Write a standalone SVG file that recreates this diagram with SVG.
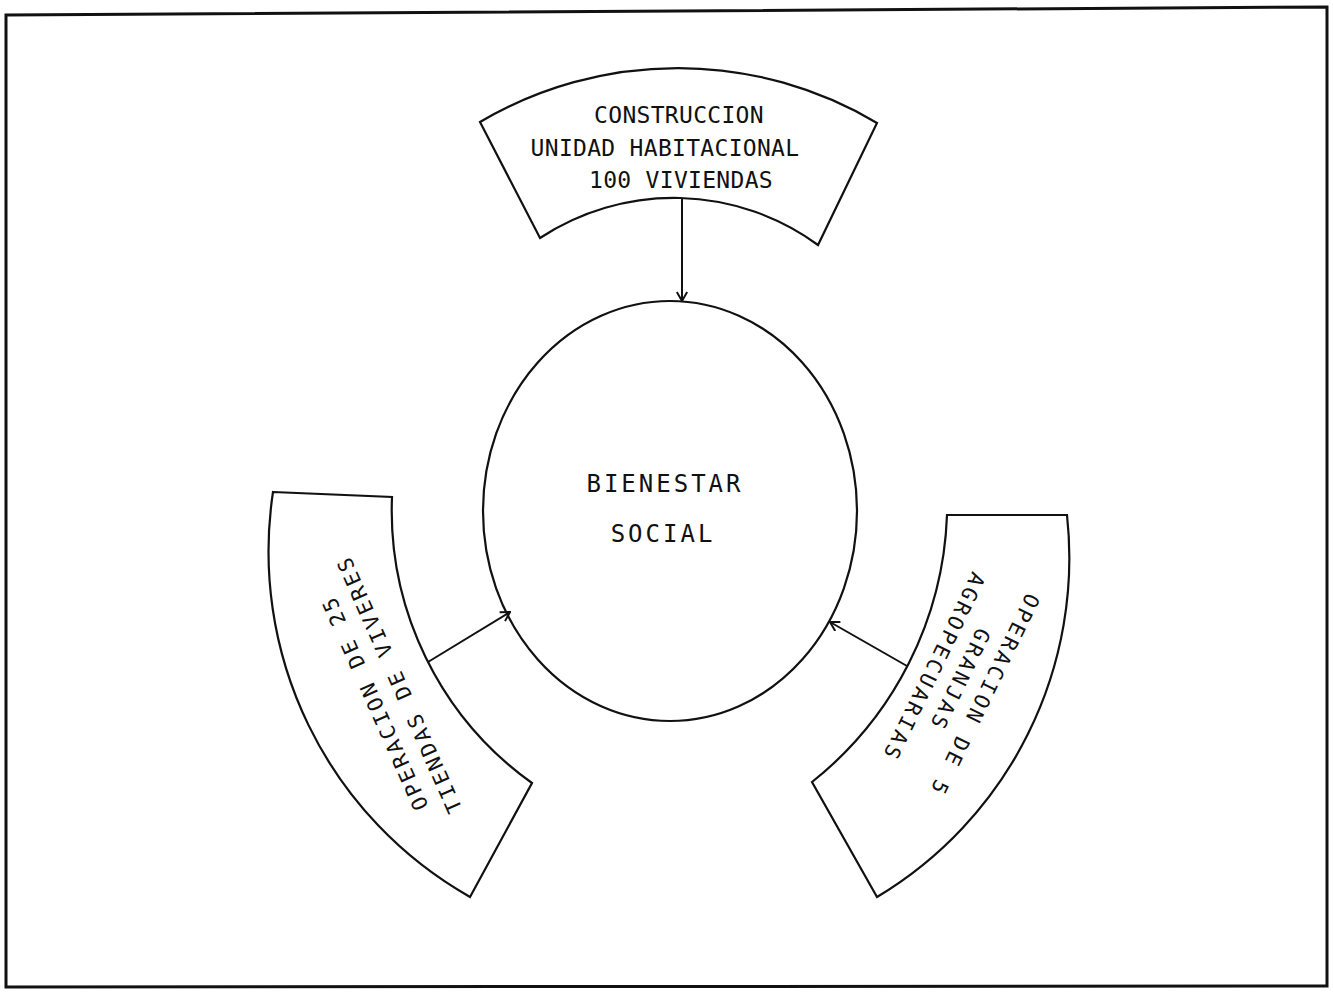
<svg xmlns="http://www.w3.org/2000/svg" width="1333" height="993" viewBox="0 0 1333 993">
<style>
.shape{fill:none;stroke:#111;stroke-width:2.2;stroke-linejoin:miter}
.frame{fill:none;stroke:#111;stroke-width:3}
.conn{fill:none;stroke:#111;stroke-width:2}
.t{font-family:"DejaVu Sans Mono","Liberation Mono",monospace;fill:#111;text-anchor:middle}
.tt{font-size:23px;letter-spacing:0.3px}
.tc{font-size:24px;letter-spacing:3px}
.ts{font-size:21px;letter-spacing:2.9px}
.tr{font-size:21px;letter-spacing:3.3px}
</style>
<defs>
<marker id="ah" viewBox="0 0 12 12" refX="11" refY="6" markerWidth="12" markerHeight="12" markerUnits="userSpaceOnUse" orient="auto">
<path d="M2,0.8 L11,6 L2,11.2" fill="none" stroke="#111" stroke-width="2"/>
</marker>
</defs>
<rect width="1333" height="993" fill="#fff"/>
<polygon class="frame" points="6,15 1327,7 1327,986 6,987"/>

<g id="connectors">
<line class="conn" x1="682" y1="198" x2="682" y2="301" marker-end="url(#ah)"/>
<line class="conn" x1="428" y1="662" x2="510" y2="612" marker-end="url(#ah)"/>
<line class="conn" x1="907" y1="666" x2="830" y2="622" marker-end="url(#ah)"/>
</g>

<g id="node-top">
<path class="shape" d="M480,122 A389,389 0 0,1 877,123 L818,245 A244,244 0 0,0 540,238 Z"/>
<text class="t tt" x="679" y="123">CONSTRUCCION</text>
<text class="t tt" x="665" y="156">UNIDAD HABITACIONAL</text>
<text class="t tt" x="681" y="188">100 VIVIENDAS</text>
</g>

<g id="node-center">
<ellipse class="shape" cx="670" cy="511" rx="187" ry="210"/>
<text class="t tc" x="665" y="492">BIENESTAR</text>
<text class="t tc" x="663" y="542">SOCIAL</text>
</g>

<g id="node-left">
<path class="shape" d="M273,492 L392,497 A335,335 0 0,0 532,783 L470,897 A397,397 0 0,1 273,492 Z"/>
<g transform="translate(387,694) rotate(-114)">
<text class="t ts" x="-3" y="-7.5">OPERACION DE 25</text>
<text class="t ts" x="4" y="22.5">TIENDAS DE VIVERES</text>
</g>
</g>

<g id="node-right">
<path class="shape" d="M947,515 L1067,515 A395,395 0 0,1 877,897 L812,782 A357,357 0 0,0 947,515 Z"/>
<g transform="translate(960,680) rotate(116)">
<text class="t tr" x="3" y="-21.5">OPERACION DE 5</text>
<text class="t tr" x="0" y="7.5">GRANJAS</text>
<text class="t tr" x="0" y="36.5">AGROPECUARIAS</text>
</g>
</g>
</svg>
